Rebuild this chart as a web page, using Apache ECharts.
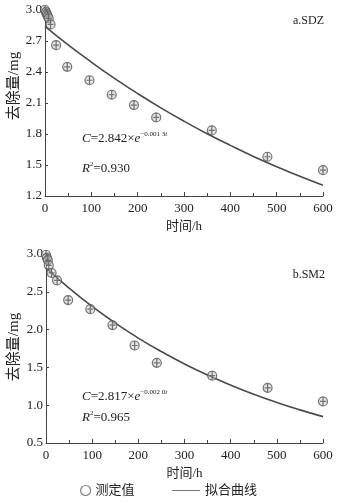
<!DOCTYPE html>
<html><head><meta charset="utf-8">
<script src="https://cdn.jsdelivr.net/npm/echarts@6/dist/echarts.min.js"></script>
<style>html,body{margin:0;padding:0;background:#fff}#c{width:352px;height:503px}</style>
</head><body><div id="c"></div>
<script>
// Measured points (time h, removal mg)
const sdzT = [0, 2, 4, 6, 8, 12, 24, 48, 96, 144, 192, 240, 360, 480, 600];
const sdzV = [3.00, 2.98, 2.96, 2.94, 2.92, 2.86, 2.66, 2.45, 2.32, 2.18, 2.08, 1.96, 1.835, 1.58, 1.45];
const sm2T = [0, 2, 4, 6, 12, 24, 48, 96, 144, 192, 240, 360, 480, 600];
const sm2V = [2.99, 2.95, 2.92, 2.85, 2.75, 2.65, 2.39, 2.27, 2.06, 1.79, 1.56, 1.39, 1.23, 1.05];
// Fitted curves read at 50 h steps
const fitT = [0, 50, 100, 150, 200, 250, 300, 350, 400, 450, 500, 550, 600];
const sdzFit = [2.842, 2.663, 2.496, 2.338, 2.191, 2.053, 1.924, 1.803, 1.690, 1.583, 1.484, 1.390, 1.303];
const sm2Fit = [2.817, 2.549, 2.306, 2.087, 1.888, 1.709, 1.546, 1.399, 1.266, 1.145, 1.036, 0.938, 0.849];
const xTicks = [0, 100, 200, 300, 400, 500, 600];
const yTicksA = [1.2, 1.5, 1.8, 2.1, 2.4, 2.7, 3.0];
const yTicksB = [0.5, 1.0, 1.5, 2.0, 2.5, 3.0];

const zip = (a, b) => a.map((v, i) => [v, b[i]]);
const serif = '"Liberation Serif","Noto Sans CJK SC",serif';
const axisCol = '#444';
const sym = 'path://M10,1 A9,9 0 1,1 9.99,1 Z M10,1 L10,19 M4,10 L16,10';
const lineIcon = 'path://M0,0 L0.01,0 L0,0.01 Z M0,4.4 H28 V5.6 H0 Z M28,10 L27.99,10 L28,9.99 Z';

function xAxis(gi) {
  return {
    gridIndex: gi, type: 'value', min: 0, max: 600, interval: 100,
    name: '时间/h', nameLocation: 'middle', nameGap: 24,
    nameTextStyle: { fontFamily: serif, fontSize: 13, color: '#222' },
    axisLine: { onZero: false, lineStyle: { color: axisCol, width: 1 } },
    axisTick: { inside: true, length: 4, lineStyle: { color: axisCol } },
    minorTick: { show: true, splitNumber: 2, length: 3, lineStyle: { color: axisCol } },
    axisLabel: { fontFamily: serif, fontSize: 13, color: '#222', margin: 6 },
    splitLine: { show: false }
  };
}
function yAxis(gi, min, max, interval) {
  return {
    gridIndex: gi, type: 'value', min: min, max: max, interval: interval,
    axisLine: { show: true, onZero: false, lineStyle: { color: axisCol, width: 1 } },
    axisTick: { show: true, inside: true, length: 3, lineStyle: { color: axisCol } },
    axisLabel: { fontFamily: serif, fontSize: 13, color: '#222', margin: 3,
      formatter: v => v.toFixed(1) },
    splitLine: { show: false }
  };
}
function scatter(gi, data) {
  return {
    name: '测定值', type: 'scatter', xAxisIndex: gi, yAxisIndex: gi,
    data: data, symbol: sym, symbolSize: 9, clip: false,
    itemStyle: { color: 'rgba(200,200,200,0.6)', borderColor: '#555', borderWidth: 1.2 },
    z: 3
  };
}
function fit(gi, data) {
  return {
    name: '拟合曲线', type: 'line', xAxisIndex: gi, yAxisIndex: gi,
    data: data, smooth: true, symbol: 'none', color: '#4a4a4a',
    lineStyle: { color: '#4a4a4a', width: 1.6 }, z: 2
  };
}
const rich = {
  i: { fontFamily: serif, fontSize: 13, fontStyle: 'italic', fill: '#222' },
  n: { fontFamily: serif, fontSize: 13, fill: '#222' },
  s: { fontFamily: serif, fontSize: 7, fill: '#222', padding: [0, 0, 8, 0] },
  si: { fontFamily: serif, fontSize: 7, fontStyle: 'italic', fill: '#222', padding: [0, 0, 8, 0] }
};

const chart = echarts.init(document.getElementById('c'));
chart.setOption({
  animation: false,
  backgroundColor: '#fff',
  grid: [
    { left: 45, top: 10, width: 278, height: 186 },
    { left: 46, top: 254, width: 277, height: 189 }
  ],
  xAxis: [xAxis(0), xAxis(1)],
  yAxis: [yAxis(0, 1.2, 3.0, 0.3), yAxis(1, 0.5, 3.0, 0.5)],
  legend: [
    {
      top: 484, left: 80, padding: 0, itemWidth: 10, itemHeight: 10,
      textStyle: { fontFamily: serif, fontSize: 13, color: '#222' },
      data: [{ name: '测定值', icon: 'circle', itemStyle: { color: '#fff', borderColor: '#666', borderWidth: 1.2 } }]
    },
    {
      top: 484, left: 172, padding: 0, itemWidth: 28, itemHeight: 10,
      textStyle: { fontFamily: serif, fontSize: 13, color: '#222' },
      data: [{ name: '拟合曲线', icon: lineIcon, itemStyle: { color: '#777' } }]
    }
  ],
  graphic: [
    { type: 'text', x: 14, y: 86, rotation: Math.PI / 2,
      style: { text: '去除量/mg', font: '15px ' + serif, fill: '#222', textAlign: 'center', textVerticalAlign: 'middle' } },
    { type: 'text', x: 14, y: 347, rotation: Math.PI / 2,
      style: { text: '去除量/mg', font: '15px ' + serif, fill: '#222', textAlign: 'center', textVerticalAlign: 'middle' } },
    { type: 'text', right: 28, top: 15,
      style: { text: 'a.SDZ', font: '12px ' + serif, fill: '#222' } },
    { type: 'text', right: 27, top: 269,
      style: { text: 'b.SM2', font: '12px ' + serif, fill: '#222' } },
    { type: 'text', left: 82, top: 131,
      style: { rich: rich, text: '{i|C}{n|=2.842×}{i|e}{s|−0.001 3}{si|t}' } },
    { type: 'text', left: 82, top: 161,
      style: { rich: rich, text: '{i|R}{s|2}{n|=0.930}' } },
    { type: 'text', left: 82, top: 389,
      style: { rich: rich, text: '{i|C}{n|=2.817×}{i|e}{s|−0.002 0}{si|t}' } },
    { type: 'text', left: 82, top: 410,
      style: { rich: rich, text: '{i|R}{s|2}{n|=0.965}' } }
  ],
  series: [
    fit(0, zip(fitT, sdzFit)),
    scatter(0, zip(sdzT, sdzV)),
    fit(1, zip(fitT, sm2Fit)),
    scatter(1, zip(sm2T, sm2V))
  ]
});
</script></body></html>
